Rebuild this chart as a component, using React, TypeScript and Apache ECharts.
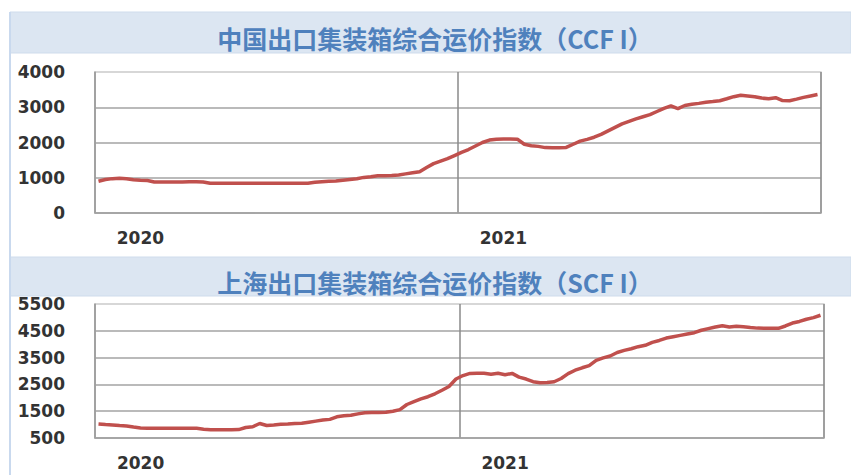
import React, { useEffect, useRef } from "react";
import * as echarts from "echarts";

const years = ["2020", "2021"];
const weeksPerYear = 52;
const yearLabelWeek = 6; // week within each year where the year label sits

const ccfiTitle = "中国出口集装箱综合运价指数（CCF I）";
const scfiTitle = "上海出口集装箱综合运价指数（SCF I）";

const ccfi = [
  900, 950, 975, 985, 970, 945, 930, 920, 880, 878, 878, 880, 882, 885, 885, 880,
  845, 842, 842, 842, 842, 842, 842, 842, 842, 842, 842, 842, 842, 842, 845, 870,
  888, 900, 910, 930, 950, 970, 1010, 1030, 1055, 1060, 1065, 1080, 1110, 1140, 1170, 1290,
  1400, 1470, 1540, 1630, 1720, 1800, 1900, 2000, 2070, 2095, 2100, 2100, 2095, 1950, 1910, 1890,
  1855, 1850, 1850, 1860, 1950, 2040, 2090, 2150, 2230, 2330, 2430, 2530, 2600, 2670, 2730, 2790,
  2880, 2970, 3040, 2960, 3050, 3085, 3110, 3140, 3160, 3185, 3240, 3300, 3340, 3320, 3300, 3260,
  3240, 3270, 3190, 3185, 3230, 3280, 3320, 3360,
];

const scfi = [
  1020, 1000, 985, 965, 948, 910, 875, 862, 862, 862, 862, 862, 862, 862, 860, 830,
  810, 810, 810, 810, 815, 890, 920, 1040, 965, 985, 1010, 1022, 1040, 1048, 1090, 1130,
  1170, 1195, 1290, 1330, 1350, 1400, 1445, 1450, 1455, 1460, 1500, 1560, 1750, 1860, 1960, 2040,
  2150, 2280, 2420, 2700, 2830, 2910, 2914, 2914, 2880, 2914, 2860, 2910, 2770, 2700, 2600, 2565,
  2570, 2600, 2720, 2900, 3030, 3120, 3200, 3400, 3490, 3560, 3690, 3770, 3830, 3907, 3960, 4070,
  4140, 4230, 4280, 4330, 4380, 4430, 4520, 4580, 4640, 4690, 4640, 4670, 4650, 4620, 4600, 4593,
  4593, 4593, 4680, 4790, 4850, 4930, 4990, 5080,
];

const ccfiAxis = { min: 0, max: 4000, interval: 1000 };
const scfiAxis = { min: 500, max: 5500, step: 500 };

export default function App() {
  const ref = useRef<HTMLDivElement>(null);

  useEffect(() => {
    document.body.style.margin = "0";
    if (!ref.current) return;
    const chart = echarts.init(ref.current, null, { renderer: "svg" });

    const weeks: string[] = [];
    years.forEach((y) => {
      for (let w = 1; w <= weeksPerYear; w++) weeks.push(`${y}-W${String(w).padStart(2, "0")}`);
    });
    const labelIdx = years.map((_, k) => k * weeksPerYear + yearLabelWeek);

    const gridColor = "#a3a3a3";
    const topColor = "#d4d4d4";
    const labelFont = {
      fontFamily: "DejaVu Sans",
      fontSize: 17,
      fontWeight: "bold",
      color: "#333333",
    };

    const makeX = (gridIndex: number) => ({
      type: "category",
      gridIndex,
      data: weeks,
      boundaryGap: true,
      axisLine: { show: true, lineStyle: { color: gridColor, width: 1.5 } },
      axisTick: { show: false },
      axisLabel: {
        ...labelFont,
        margin: 16,
        interval: (i: number) => labelIdx.includes(i),
        formatter: (v: string) => v.slice(0, 4),
      },
      splitLine: {
        show: true,
        interval: weeksPerYear - 1,
        lineStyle: { color: "#8a8a8a", width: 1.5 },
      },
    });

    const scfiTickCount = (scfiAxis.max - scfiAxis.min) / scfiAxis.step + 1;
    const scfiSplitColors: string[] = [];
    for (let k = 0; k < scfiTickCount; k++) {
      if (k === scfiTickCount - 1) scfiSplitColors.push(topColor);
      else scfiSplitColors.push(k % 2 === 0 ? gridColor : "rgba(0,0,0,0)");
    }

    const titleStyle = { fontFamily: "Noto Sans CJK SC", fontSize: 25, fontWeight: "bold", color: "#4f81bd" };

    const option = {
      animation: false,
      backgroundColor: "#ffffff",
      title: [
        { text: ccfiTitle, left: 430, top: 33, textAlign: "center", textVerticalAlign: "middle", textStyle: titleStyle },
        { text: scfiTitle, left: 430, top: 277, textAlign: "center", textVerticalAlign: "middle", textStyle: titleStyle },
      ],
      graphic: [
        { type: "rect", z: -10, shape: { x: 10, y: 12, width: 841, height: 41 }, style: { fill: "#dce6f2", stroke: "#cfdcec", lineWidth: 1 } },
        { type: "rect", z: -10, shape: { x: 10, y: 257, width: 841, height: 39 }, style: { fill: "#dce6f2", stroke: "#cfdcec", lineWidth: 1 } },
        { type: "line", z: -10, shape: { x1: 10, y1: 12, x2: 10, y2: 475 }, style: { stroke: "#c9d9ee", lineWidth: 2 } },
      ],
      grid: [
        { left: 95, top: 72, right: 30, bottom: 262, show: true, borderColor: topColor, borderWidth: 1.5, backgroundColor: "transparent" },
        { left: 95, top: 304, right: 27, bottom: 37, show: true, borderColor: topColor, borderWidth: 1.5, backgroundColor: "transparent" },
      ],
      xAxis: [makeX(0), makeX(1)],
      yAxis: [
        {
          type: "value",
          gridIndex: 0,
          min: ccfiAxis.min,
          max: ccfiAxis.max,
          interval: ccfiAxis.interval,
          axisLine: { show: true, lineStyle: { color: gridColor, width: 1.5 } },
          axisTick: { show: false },
          axisLabel: { ...labelFont, margin: 30, formatter: (v: number) => String(v) },
          splitLine: {
            show: true,
            lineStyle: { color: [gridColor, gridColor, gridColor, gridColor, topColor], width: 1.5 },
          },
        },
        {
          type: "value",
          gridIndex: 1,
          min: scfiAxis.min,
          max: scfiAxis.max,
          interval: scfiAxis.step,
          axisLine: { show: true, lineStyle: { color: gridColor, width: 1.5 } },
          axisTick: { show: false },
          axisLabel: {
            ...labelFont,
            margin: 30,
            formatter: (v: number) => (Math.round((v - scfiAxis.min) / scfiAxis.step) % 2 === 0 ? String(v) : ""),
          },
          splitLine: { show: true, lineStyle: { color: scfiSplitColors, width: 1.5 } },
        },
      ],
      series: [
        {
          type: "line",
          name: "CCFI",
          xAxisIndex: 0,
          yAxisIndex: 0,
          data: ccfi,
          symbol: "none",
          lineStyle: { color: "#c0504d", width: 3.5 },
          z: 5,
        },
        {
          type: "line",
          name: "SCFI",
          xAxisIndex: 1,
          yAxisIndex: 1,
          data: scfi,
          symbol: "none",
          lineStyle: { color: "#c0504d", width: 3.5 },
          z: 5,
        },
      ],
    };

    chart.setOption(option as any);
    return () => chart.dispose();
  }, []);

  return <div ref={ref} style={{ width: 851, height: 475 }} />;
}
